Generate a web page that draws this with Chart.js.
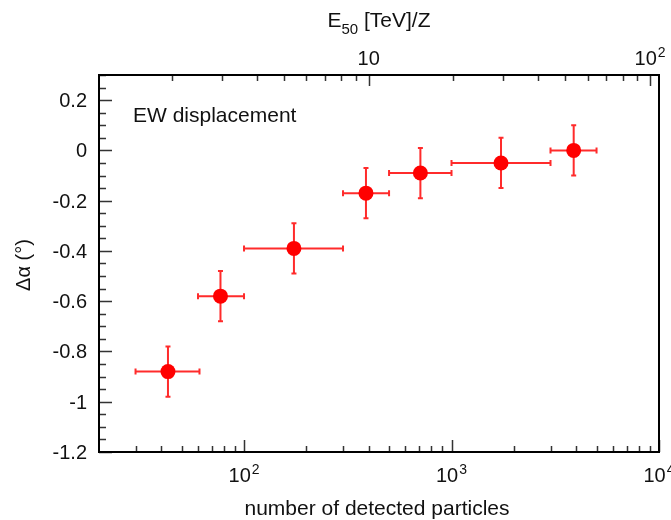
<!DOCTYPE html>
<html>
<head>
<meta charset="utf-8">
<script src="https://cdn.jsdelivr.net/npm/chart.js@4"></script>
<style>
  body { margin: 0; background: #fff; }
  #wrap { width: 671px; height: 520px; }
</style>
</head>
<body>
<div id="wrap"><canvas id="plot" width="671" height="520"></canvas></div>
<script>
// data
const nParticles = [43, 77, 174, 387, 708, 1732, 3880];
const nLow = [30, 60, 100, 300, 500, 1000, 3000];
const nHigh = [61, 100, 300, 500, 1000, 3000, 5000];
const deltaAlpha = [-0.88, -0.58, -0.39, -0.17, -0.09, -0.05, 0];
const alphaErr = [0.1, 0.1, 0.1, 0.1, 0.1, 0.1, 0.1];

// tick labels
const yTicks = [0.2, 0, -0.2, -0.4, -0.6, -0.8, -1, -1.2];
const yTickLabels = ['0.2', '0', '-0.2', '-0.4', '-0.6', '-0.8', '-1', '-1.2'];
const xTicks = [100, 1000, 10000];
const xTickExp = ['2', '3', '4'];
const topTicks = [10, 100];
const topTickExp = ['', '2'];

const FONT = '"Liberation Sans", Arial, sans-serif';

// draws "10" with a raised exponent, centred on x
function drawPow(ctx, exp, x, y) {
    ctx.font = '20px ' + FONT;
    const wBase = ctx.measureText('10').width;
    ctx.font = '14px ' + FONT;
    const wExp = exp ? ctx.measureText(exp).width + 1 : 0;
    const start = x - (wBase + wExp) / 2;
    ctx.textAlign = 'left';
    ctx.font = '20px ' + FONT;
    ctx.fillText('10', start, y);
    if (exp) {
        ctx.font = '14px ' + FONT;
        ctx.fillText(exp, start + wBase + 1, y - 8);
    }
}

const errorBars = {
    id: 'errorBars',
    beforeDatasetsDraw(chart) {
        const ctx = chart.ctx;
        const xs = chart.scales.x, ys = chart.scales.y;
        ctx.save();
        ctx.strokeStyle = 'rgba(255, 20, 20, 0.9)';
        ctx.lineWidth = 2;
        nParticles.forEach((n, i) => {
            const px = xs.getPixelForValue(n);
            const py = ys.getPixelForValue(deltaAlpha[i]);
            const x1 = xs.getPixelForValue(nLow[i]);
            const x2 = xs.getPixelForValue(nHigh[i]);
            const y1 = ys.getPixelForValue(deltaAlpha[i] + alphaErr[i]);
            const y2 = ys.getPixelForValue(deltaAlpha[i] - alphaErr[i]);
            ctx.beginPath();
            ctx.moveTo(x1, py); ctx.lineTo(x2, py);
            ctx.moveTo(x1, py - 3); ctx.lineTo(x1, py + 3);
            ctx.moveTo(x2, py - 3); ctx.lineTo(x2, py + 3);
            ctx.moveTo(px, y1); ctx.lineTo(px, y2);
            ctx.moveTo(px - 2.5, y1); ctx.lineTo(px + 2.5, y1);
            ctx.moveTo(px - 2.5, y2); ctx.lineTo(px + 2.5, y2);
            ctx.stroke();
        });
        ctx.restore();
    }
};

const frameAxes = {
    id: 'frameAxes',
    afterDraw(chart) {
        const ctx = chart.ctx;
        const a = chart.chartArea;
        const xs = chart.scales.x, ys = chart.scales.y, xt = chart.scales.x2;
        ctx.save();

        // ticks (pointing inward)
        ctx.strokeStyle = '#333';
        ctx.lineWidth = 1.5;
        ctx.beginPath();
        for (let v = -1.2; v <= 0.3001; v += 0.05) {
            const y = Math.round(ys.getPixelForValue(v)) + 0.5;
            const major = Math.abs(Math.round(v * 10) - v * 10) < 1e-6 && Math.round(v * 10) % 2 === 0;
            ctx.moveTo(a.left, y); ctx.lineTo(a.left + (major ? 13 : 7), y);
        }
        for (let d = 10; d <= 1000; d *= 10) {
            for (let k = 1; k <= 10; k++) {
                const v = d * k;
                if (v <= xs.min || v >= xs.max + 1) continue;
                const x = Math.round(xs.getPixelForValue(v)) + 0.5;
                const major = k === 1 || k === 10;
                ctx.moveTo(x, a.bottom); ctx.lineTo(x, a.bottom - (major ? 12 : 6));
            }
        }
        for (let d = 1; d <= 100; d *= 10) {
            for (let k = 1; k <= 10; k++) {
                const v = d * k;
                if (v <= xt.min || v >= xt.max) continue;
                const x = Math.round(xt.getPixelForValue(v)) + 0.5;
                const major = k === 1 || k === 10;
                ctx.moveTo(x, a.top); ctx.lineTo(x, a.top + (major ? 11 : 6));
            }
        }
        ctx.stroke();

        // frame
        ctx.strokeStyle = '#000';
        ctx.lineWidth = 2;
        ctx.strokeRect(a.left, a.top, a.right - a.left, a.bottom - a.top);

        // labels
        ctx.fillStyle = '#111';
        ctx.textBaseline = 'alphabetic';
        ctx.font = '20px ' + FONT;
        ctx.textAlign = 'right';
        yTicks.forEach((v, i) => {
            ctx.fillText(yTickLabels[i], 87, ys.getPixelForValue(v) + 7);
        });
        xTicks.forEach((v, i) => drawPow(ctx, xTickExp[i], xs.getPixelForValue(v), 482));
        topTicks.forEach((v, i) => drawPow(ctx, topTickExp[i], xt.getPixelForValue(v), 65));

        // axis titles
        ctx.font = '21px ' + FONT;
        ctx.textAlign = 'center';
        ctx.fillText('number of detected particles', 377, 515);

        ctx.textAlign = 'left';
        const wE = ctx.measureText('E').width;
        const rest = ' [TeV]/Z';
        const wRest = ctx.measureText(rest).width;
        ctx.font = '15px ' + FONT;
        const wSub = ctx.measureText('50').width;
        let tx = (a.left + a.right) / 2 - (wE + wSub + wRest) / 2;
        ctx.font = '21px ' + FONT;
        ctx.fillText('E', tx, 27);
        ctx.font = '15px ' + FONT;
        ctx.fillText('50', tx + wE, 34);
        ctx.font = '21px ' + FONT;
        ctx.fillText(rest, tx + wE + wSub, 27);

        ctx.font = '21px ' + FONT;
        ctx.fillText('EW displacement', 133, 122);

        ctx.save();
        ctx.translate(30, 265);
        ctx.rotate(-Math.PI / 2);
        ctx.textAlign = 'center';
        ctx.font = '20px ' + FONT;
        ctx.fillText('\u0394\u03b1 (\u00b0)', 0, 0);
        ctx.restore();

        ctx.restore();
    }
};

const ctx = document.getElementById('plot').getContext('2d');
new Chart(ctx, {
    type: 'scatter',
    data: {
        datasets: [{
            label: 'EW displacement',
            data: nParticles.map((n, i) => ({ x: n, y: deltaAlpha[i] })),
            backgroundColor: '#ff0000',
            borderWidth: 0,
            pointRadius: 7.5,
            pointHoverRadius: 7.5
        }]
    },
    options: {
        responsive: false,
        animation: false,
        layout: { padding: { left: 99, top: 75, right: 12, bottom: 68 } },
        plugins: { legend: { display: false }, tooltip: { enabled: false } },
        scales: {
            x: { type: 'logarithmic', min: 20, max: 10000, display: false },
            x2: { type: 'logarithmic', position: 'top', min: 1.1, max: 107.6, display: false },
            y: { type: 'linear', min: -1.2, max: 0.3, display: false }
        }
    },
    plugins: [errorBars, frameAxes]
});
</script>
</body>
</html>
